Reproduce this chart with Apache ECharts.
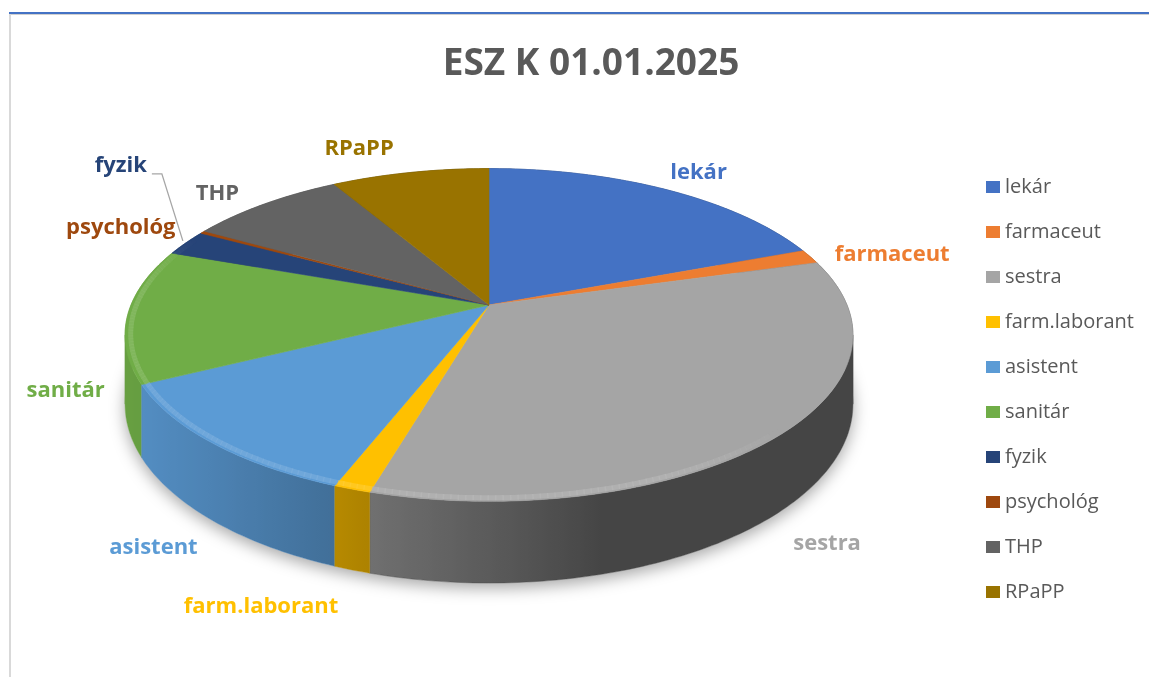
<!DOCTYPE html>
<html><head><meta charset="utf-8">
<script src="https://cdn.jsdelivr.net/npm/echarts@6/dist/echarts.min.js"></script>
<style>html,body{margin:0;padding:0;background:#fff}#c{width:1149px;height:677px}</style>
</head><body><div id="c"></div>
<script>
// ---- data ----
const categories = ['lekár','farmaceut','sestra','farm.laborant','asistent','sanitár','fyzik','psychológ','THP','RPaPP'];
const staffCounts = [69, 5, 122, 5, 42, 47, 9, 1, 30, 30];
const titleText = 'ESZ K 01.01.2025';

// ---- style / layout ----
const palette = ['#4472C4','#ED7D31','#A5A5A5','#FFC000','#5B9BD5','#70AD47','#264478','#9E480E','#636363','#997300'];
const labelOffset = [[33,-17],[82,-2],[48,32],[-91,37],[-59,27],[-62,8],[-65,-77],[-82,-4],[-47,-10],[-51,-24]];
const leaderLine = [false,false,false,false,false,false,true,false,false,false];
const FONT = "'Open Sans', 'Liberation Sans', sans-serif";

const cx = 489, cy = 305, Sx = 358, Sy = 161, K = 0.18, T = 67;
const total = staffCounts.reduce((a, b) => a + b, 0);
const cum = []; (function(){ let acc = 0; staffCounts.forEach(v => { cum.push(acc); acc += v; }); })();
const X_EXT = [Math.acos(-K), 2 * Math.PI - Math.acos(-K)]; // angles of widest projected points
const HL_CENTER = 215 * Math.PI / 180;

function proj(t, r, h) {
  const u = r * Math.sin(t), v = -r * Math.cos(t), d = 1 - K * v;
  return [cx + Sx * u / d, cy + (Sy * v + h) / d];
}
function ang(val) { return val / total * Math.PI * 2; }
function rgb(hex) { const n = parseInt(hex.slice(1), 16); return [(n >> 16) & 255, (n >> 8) & 255, n & 255]; }
function shade(hex, f) { const c = rgb(hex).map(x => Math.round(Math.min(255, x * f))); return 'rgb(' + c.join(',') + ')'; }
function lighten(hex, a) { const c = rgb(hex).map(x => Math.round(x + (255 - x) * a)); return 'rgb(' + c.join(',') + ')'; }
function wallFactor(t) { const L = 255 * Math.PI / 180; return 0.42 + 0.5 * Math.max(0, Math.cos(t - L)); }
function hlWeight(t) { const c = Math.cos(t - HL_CENTER); return c <= 0.15 ? 0 : Math.min(1, (c - 0.15) / 0.35); }

function wallPiece(i, t0, t1) {
  const n = Math.max(2, Math.ceil((t1 - t0) / (Math.PI / 180)));
  const top = [], bot = [], xs = [];
  for (let s = 0; s <= n; s++) {
    const t = t0 + (t1 - t0) * s / n;
    const p = proj(t, 1, 0);
    top.push(p); bot.push(proj(t, 1, T)); xs.push([p[0], t]);
  }
  const xmin = Math.min(...xs.map(a => a[0])), xmax = Math.max(...xs.map(a => a[0]));
  const span = Math.max(0.001, xmax - xmin);
  const stops = xs.map(a => ({ offset: (a[0] - xmin) / span, color: shade(palette[i], wallFactor(a[1])) }))
    .sort((p, q) => p.offset - q.offset);
  const tm = (t0 + t1) / 2;
  const fill = { type: 'linear', x: xmin, y: 0, x2: xmin + span, y2: 0, global: true, colorStops: stops };
  return { type: 'polygon', z2: Math.round(-Math.cos(tm) * 1000),
    shape: { points: top.concat(bot.reverse()) },
    style: { fill: fill, stroke: stops[Math.floor(stops.length / 2)].color, lineWidth: 0.4 } };
}

function renderWall(params, api) {
  const i = params.dataIndex;
  const a0 = ang(cum[i]), a1 = ang(cum[i] + api.value(0));
  const children = [];
  if (i === 0) {
    const base = [];
    for (let s = 0; s <= 180; s++) base.push(proj(s / 180 * Math.PI * 2, 1, T));
    children.push({ type: 'polygon', z2: -5000, shape: { points: base },
      style: { fill: '#ffffff', shadowBlur: 16, shadowColor: 'rgba(0,0,0,0.35)', shadowOffsetY: 5 } });
  }
  const cuts = [a0];
  X_EXT.forEach(e => { if (e > a0 && e < a1) cuts.push(e); });
  cuts.push(a1);
  for (let c = 0; c < cuts.length - 1; c++) children.push(wallPiece(i, cuts[c], cuts[c + 1]));
  return { type: 'group', children };
}

function renderTop(params, api) {
  const i = params.dataIndex;
  const a0 = ang(cum[i]), a1 = ang(cum[i] + api.value(0));
  const children = [];
  const n = Math.max(2, Math.ceil((a1 - a0) / (Math.PI / 360)));
  const pts = [[cx, cy]];
  for (let s = 0; s <= n; s++) pts.push(proj(a0 + (a1 - a0) * s / n, 1, 0));
  children.push({ type: 'polygon', z2: 10, shape: { points: pts },
    style: { fill: palette[i], stroke: palette[i], lineWidth: 0.6 } });
  // bevel highlight along the lit front rim, fading towards the sides
  const hc = lighten(palette[i], 0.22);
  const step = Math.PI / 180;
  for (let t = a0; t < a1 - 1e-6; t += step) {
    const t2 = Math.min(a1, t + step * 1.2);
    const w = hlWeight((t + t2) / 2);
    if (w <= 0) continue;
    children.push({ type: 'polyline', z2: 20, shape: { points: [proj(t, 0.985, 0), proj(t2, 0.985, 0)] },
      style: { stroke: hc, lineWidth: 5, opacity: 0.55 * w, fill: null, lineCap: 'butt' } });
  }
  // label
  const tm = (a0 + a1) / 2;
  const front = -Math.cos(tm) > 0;
  const anchor = proj(tm, 1, front ? T : 0);
  const lx = anchor[0] + labelOffset[i][0], ly = anchor[1] + labelOffset[i][1];
  if (leaderLine[i]) {
    const rim = proj(tm, 1, 0);
    children.push({ type: 'polyline', z2: 30, shape: { points: [[rim[0] - 3, rim[1] - 2], [lx + 41, ly + 8], [lx + 31, ly + 8]] },
      style: { stroke: '#A6A6A6', lineWidth: 1.3, fill: null } });
  }
  children.push({ type: 'text', z2: 40, x: lx, y: ly,
    style: { text: categories[i], fill: palette[i], fontFamily: FONT, fontWeight: 'bold', fontSize: 22,
      align: 'center', verticalAlign: 'middle' } });
  return { type: 'group', children };
}

const chart = echarts.init(document.getElementById('c'));
chart.setOption({
  animation: false,
  backgroundColor: '#ffffff',
  color: palette,
  title: { text: titleText, left: 586, textAlign: 'center', top: 41,
    textStyle: { fontFamily: FONT, fontWeight: 'bold', fontSize: 37, color: '#595959' } },
  legend: { orient: 'vertical', left: 981, top: 171, itemWidth: 14, itemHeight: 12, itemGap: 23, icon: 'rect',
    data: categories, selectedMode: false,
    textStyle: { fontFamily: FONT, fontSize: 20, color: '#595959', lineHeight: 22 } },
  graphic: [
    { type: 'line', shape: { x1: 9, y1: 13, x2: 1149, y2: 13 }, style: { stroke: '#4472C4', lineWidth: 2 }, silent: true },
    { type: 'line', shape: { x1: 9, y1: 14.5, x2: 1149, y2: 14.5 }, style: { stroke: '#D0D0D0', lineWidth: 1 }, silent: true },
    { type: 'line', shape: { x1: 10, y1: 14, x2: 10, y2: 677 }, style: { stroke: '#D9D9D9', lineWidth: 2 }, silent: true }
  ],
  series: [
    { type: 'custom', name: 'walls', coordinateSystem: 'none', z: 2, silent: true,
      data: staffCounts.map((v, i) => ({ name: categories[i], value: [v] })), renderItem: renderWall },
    { type: 'custom', name: 'tops', coordinateSystem: 'none', z: 3, silent: true,
      data: staffCounts.map((v, i) => ({ name: categories[i], value: [v] })), renderItem: renderTop },
    { type: 'pie', name: 'legendProxy', radius: 2, center: [-200, -200], silent: true,
      label: { show: false }, labelLine: { show: false },
      data: staffCounts.map((v, i) => ({ name: categories[i], value: v })) }
  ]
});
</script></body></html>
